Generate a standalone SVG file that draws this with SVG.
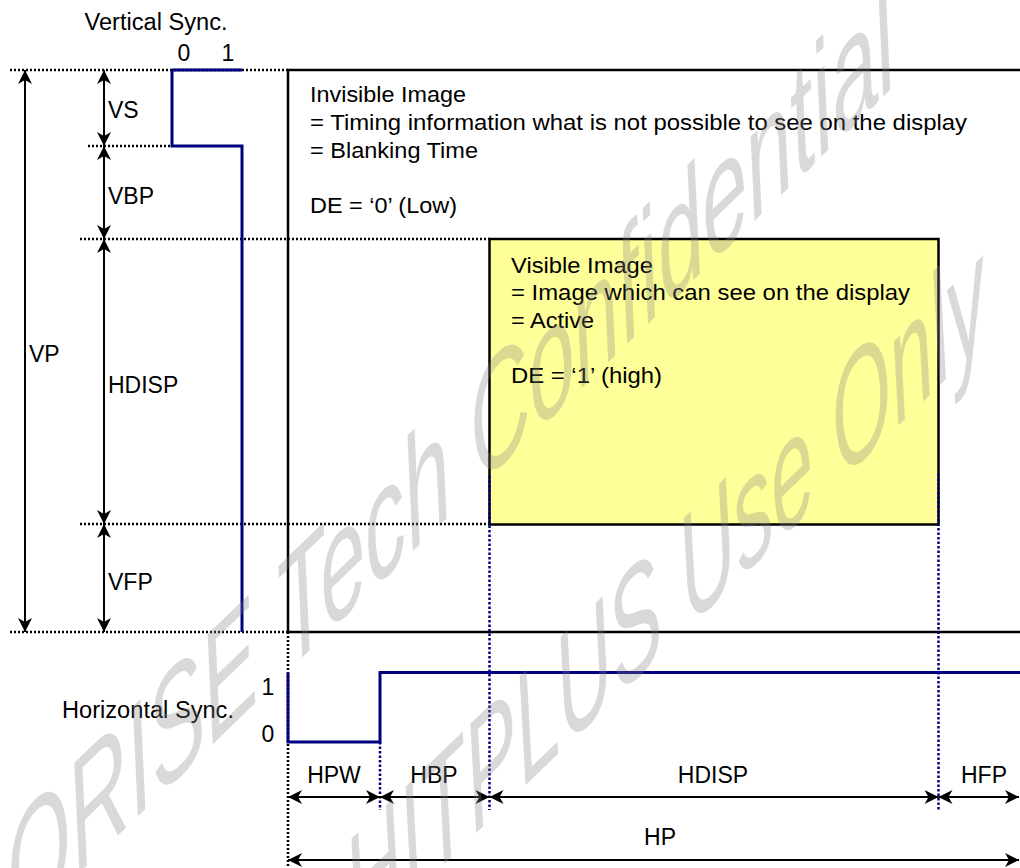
<svg xmlns="http://www.w3.org/2000/svg" width="1020" height="868" viewBox="0 0 1020 868">
<defs>
<style>
text{font-family:"Liberation Sans",Arial,sans-serif;fill:#000}
.lbl{font-size:23px}
.inv{font-size:21.5px}
.vis{font-size:22px}
.dot{stroke:#000;stroke-width:2.5;stroke-dasharray:2 2;fill:none}
.bdot{stroke:#000080;stroke-width:2.5;stroke-dasharray:2.5 2;fill:none}
.sig{stroke:#000080;stroke-width:3;fill:none}
.dim{stroke:#000;stroke-width:2;fill:none;marker-start:url(#ah);marker-end:url(#ah)}
.wm{font-size:120px;font-style:italic;fill:#808080;fill-opacity:0.3}
</style>
<marker id="ah" viewBox="0 0 14 14" refX="14" refY="7" markerWidth="14" markerHeight="14" markerUnits="userSpaceOnUse" orient="auto-start-reverse">
<path d="M14,7 L0,0 L4,7 L0,14 Z" fill="#000"/>
</marker>
</defs>
<rect width="1020" height="868" fill="#fff"/>

<g id="guides">
<line class="dot" x1="10" y1="70" x2="288" y2="70"/>
<line class="dot" x1="88" y1="146" x2="172" y2="146"/>
<line class="dot" x1="80" y1="239" x2="490" y2="239"/>
<line class="dot" x1="80" y1="524" x2="490" y2="524"/>
<line class="dot" x1="10" y1="632" x2="288" y2="632"/>
<line class="dot" x1="288" y1="632" x2="288" y2="868"/>
</g>

<g id="invisible-image">
<path d="M288,632 V70 H1022 M288,632 H1022" stroke="#000" stroke-width="2.5" fill="none"/>
<text class="inv" x="310" y="102" textLength="156" lengthAdjust="spacingAndGlyphs">Invisible Image</text>
<text class="inv" x="310" y="130" textLength="657" lengthAdjust="spacingAndGlyphs">= Timing information what is not possible to see on the display</text>
<text class="inv" x="310" y="157.5" textLength="168" lengthAdjust="spacingAndGlyphs">= Blanking Time</text>
<text class="inv" x="310" y="212.5" textLength="147" lengthAdjust="spacingAndGlyphs">DE = ‘0’ (Low)</text>
</g>

<g id="visible-image">
<rect x="489.5" y="239" width="449" height="285.5" fill="#ffff99" stroke="#000" stroke-width="2.5"/>
<text class="vis" x="511" y="272.5" textLength="142" lengthAdjust="spacingAndGlyphs">Visible Image</text>
<text class="vis" x="511" y="300" textLength="399" lengthAdjust="spacingAndGlyphs">= Image which can see on the display</text>
<text class="vis" x="511" y="327.5" textLength="83" lengthAdjust="spacingAndGlyphs">= Active</text>
<text class="vis" x="511" y="382.5" textLength="151" lengthAdjust="spacingAndGlyphs">DE = ‘1’ (high)</text>
</g>

<g id="vertical-sync">
<text class="lbl" x="156" y="30" text-anchor="middle" textLength="143" lengthAdjust="spacingAndGlyphs">Vertical Sync.</text>
<text class="lbl" x="184" y="61" text-anchor="middle">0</text>
<text class="lbl" x="228" y="61" text-anchor="middle">1</text>
<path class="sig" d="M172,70 H242 M172,70 V146 H242 V632"/>
</g>

<g id="horizontal-sync">
<text class="lbl" x="62" y="718" textLength="172" lengthAdjust="spacingAndGlyphs">Horizontal Sync.</text>
<text class="lbl" x="268" y="695" text-anchor="middle">1</text>
<text class="lbl" x="268" y="742" text-anchor="middle">0</text>
<path class="sig" d="M288,673 V742 H380 V672.5 H1022"/>
</g>

<g id="connectors">
<line class="bdot" x1="380" y1="742" x2="380" y2="810"/>
<line class="bdot" x1="489.5" y1="476" x2="489.5" y2="810"/>
<line class="bdot" x1="938.5" y1="474" x2="938.5" y2="810"/>
<line class="dim" x1="25" y1="70" x2="25" y2="632"/>
<line class="dim" x1="104" y1="70" x2="104" y2="146"/>
<line class="dim" x1="104" y1="146" x2="104" y2="239"/>
<line class="dim" x1="104" y1="239" x2="104" y2="524"/>
<line class="dim" x1="104" y1="524" x2="104" y2="632"/>
<line class="dim" x1="288" y1="797" x2="380" y2="797"/>
<line class="dim" x1="380" y1="797" x2="489.5" y2="797"/>
<line class="dim" x1="489.5" y1="797" x2="938.5" y2="797"/>
<line class="dim" x1="938.5" y1="797" x2="1019" y2="797"/>
<line class="dim" x1="288" y1="860" x2="1019" y2="860"/>
</g>

<g id="dimension-labels">
<text class="lbl" x="108" y="118">VS</text>
<text class="lbl" x="108" y="204">VBP</text>
<text class="lbl" x="29" y="361.5">VP</text>
<text class="lbl" x="108" y="393">HDISP</text>
<text class="lbl" x="108" y="590">VFP</text>
<text class="lbl" x="334" y="783" text-anchor="middle">HPW</text>
<text class="lbl" x="434" y="783" text-anchor="middle">HBP</text>
<text class="lbl" x="713" y="783" text-anchor="middle">HDISP</text>
<text class="lbl" x="984" y="783" text-anchor="middle">HFP</text>
<text class="lbl" x="660" y="845" text-anchor="middle">HP</text>
</g>

<g id="watermark">
<text class="wm" transform="translate(15,935) rotate(-44) skewX(-35)" x="0" y="0" textLength="1230" lengthAdjust="spacingAndGlyphs">ORISE Tech Confidential</text>
<text class="wm" transform="translate(355,950) rotate(-44) skewX(-35)" x="0" y="0" textLength="885" lengthAdjust="spacingAndGlyphs">HITPLUS Use Only</text>
</g>
</svg>
